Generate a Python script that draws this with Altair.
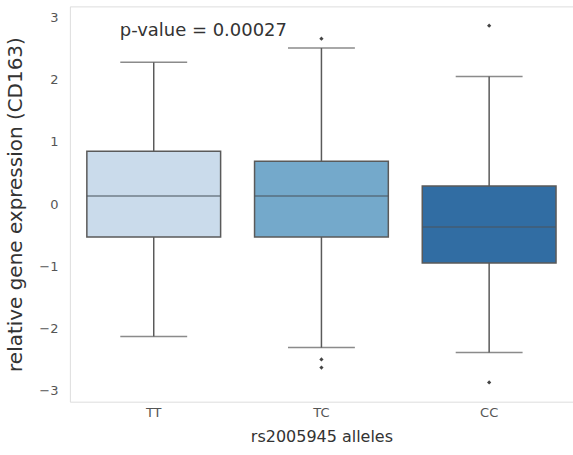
import altair as alt
import pandas as pd

categories = ["TT", "TC", "CC"]
q1 = [-0.53, -0.53, -0.95]
median = [0.13, 0.13, -0.37]
q3 = [0.85, 0.69, 0.29]
whisker_low = [-2.13, -2.31, -2.39]
whisker_high = [2.28, 2.51, 2.05]
colors = ["#cadbeb", "#74a9cb", "#316da3"]

outlier_cat = ["TC", "TC", "TC", "CC", "CC"]
outlier_val = [2.66, -2.50, -2.63, 2.87, -2.87]

y_ticks = [-3, -2, -1, 0, 1, 2, 3]

box_df = pd.DataFrame({
    "allele": categories, "q1": q1, "median": median, "q3": q3,
    "lo": whisker_low, "hi": whisker_high,
})
out_df = pd.DataFrame({"allele": outlier_cat, "value": outlier_val})

xenc = alt.X("allele:N", sort=categories,
             scale=alt.Scale(paddingInner=0, paddingOuter=0),
             axis=alt.Axis(title="rs2005945 alleles", labelAngle=0, ticks=False,
                           domain=False, labelPadding=5, labelFontSize=13,
                           labelColor="#555", titleFontSize=16, titleColor="#333",
                           titleFontWeight="normal", titlePadding=9,
                           labelFont="DejaVu Sans", titleFont="DejaVu Sans"))
yscale = alt.Scale(domain=[-3.18, 3.18], nice=False, zero=False)
yaxis = alt.Axis(title="relative gene expression (CD163)", values=y_ticks, format="d",
                 grid=False, ticks=False, domain=False, labelPadding=12, labelFontSize=13,
                 labelColor="#555", titleFontSize=20, titleColor="#333",
                 titleFontWeight="normal", titlePadding=13,
                 labelFont="DejaVu Sans", titleFont="DejaVu Sans")

base = alt.Chart(box_df)

whisk_hi = base.mark_rule(color="#5a5a5a", strokeWidth=1.5).encode(
    x=xenc, y=alt.Y("q3:Q", scale=yscale, axis=yaxis), y2="hi:Q")
whisk_lo = base.mark_rule(color="#5a5a5a", strokeWidth=1.5).encode(
    x=alt.X("allele:N", sort=categories), y=alt.Y("lo:Q", scale=yscale), y2="q1:Q")
cap_hi = base.mark_tick(color="#5a5a5a", size=67, thickness=1.5).encode(
    x=alt.X("allele:N", sort=categories), y=alt.Y("hi:Q", scale=yscale))
cap_lo = base.mark_tick(color="#5a5a5a", size=67, thickness=1.5).encode(
    x=alt.X("allele:N", sort=categories), y=alt.Y("lo:Q", scale=yscale))
box = base.mark_bar(size=134, stroke="#5a5a5a", strokeWidth=1.5).encode(
    x=alt.X("allele:N", sort=categories), y=alt.Y("q1:Q", scale=yscale), y2="q3:Q",
    color=alt.Color("allele:N", sort=categories,
                    scale=alt.Scale(domain=categories, range=colors), legend=None))
med = base.mark_tick(color="#4a5560", size=134, thickness=1.5).encode(
    x=alt.X("allele:N", sort=categories), y=alt.Y("median:Q", scale=yscale))
outl = alt.Chart(out_df).mark_point(shape="diamond", filled=True, size=18,
                                    color="#444", opacity=1).encode(
    x=alt.X("allele:N", sort=categories), y=alt.Y("value:Q", scale=yscale))

ptext = alt.Chart(pd.DataFrame({"t": ["p-value = 0.00027"]})).mark_text(
    align="left", baseline="middle", fontSize=18, color="#333",
    font="DejaVu Sans").encode(text="t:N", x=alt.value(50), y=alt.value(25))

chart = alt.layer(whisk_hi, whisk_lo, cap_hi, cap_lo, box, med, outl, ptext).properties(
    width=504, height=396,
    autosize=alt.AutoSizeParams(type="none"),
    padding={"left": 70, "top": 6, "right": 0, "bottom": 53},
).configure_view(stroke="#e3e3e3", strokeWidth=1.5).configure(background="white")

chart.save("out.html", embed_options={"renderer": "svg", "actions": False})
